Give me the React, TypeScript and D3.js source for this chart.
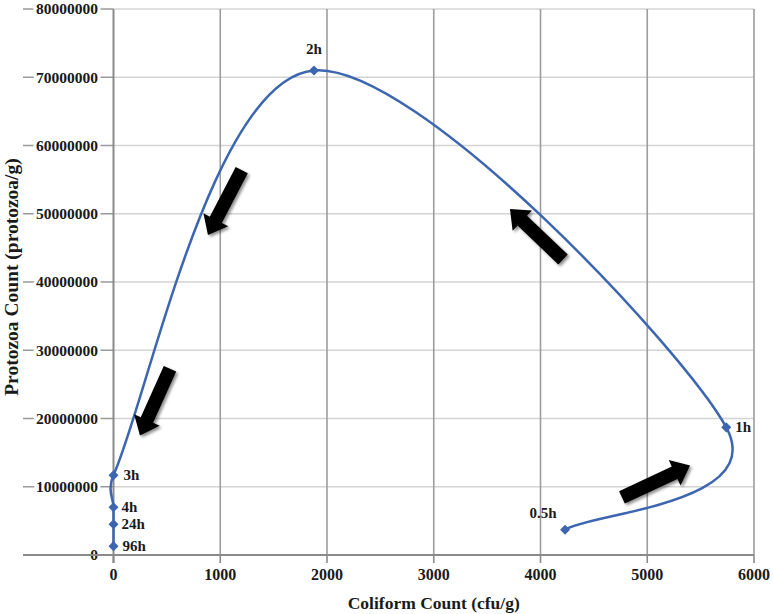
import React from "react";
import * as d3 from "d3";

// time points along the path (coliform cfu/g vs protozoa/g)
const labels = ["0.5h", "1h", "2h", "3h", "4h", "24h", "96h"];
const coliform = [4230, 5740, 1878, 0, 0, 0, 0];
const protozoa = [3700000, 18700000, 71000000, 11700000, 7000000, 4500000, 1300000];

const xTicks = [0, 1000, 2000, 3000, 4000, 5000, 6000];
const yTicks = [0, 10000000, 20000000, 30000000, 40000000, 50000000, 60000000, 70000000, 80000000];

// direction arrows drawn on the plot, tail -> tip, in data units
const arrowTails = [
  [1201, 56400000],
  [529, 27300000],
  [4211, 43300000],
  [4763, 8450000],
];
const arrowTips = [
  [885, 46900000],
  [248, 17500000],
  [3714, 50700000],
  [5401, 13100000],
];

const width = 773;
const height = 614;
const margin = { top: 9, right: 19, bottom: 59, left: 113.5 };

const font = '"Liberation Serif", "Times New Roman", serif';
const lineColor = "#3d66b0";

// label placement relative to the marker
const labelPos: Record<string, { dx: number; dy: number; anchor: string }> = {
  "0.5h": { dx: -22, dy: -12, anchor: "middle" },
  "1h": { dx: 9, dy: 5, anchor: "start" },
  "2h": { dx: 0, dy: -16, anchor: "middle" },
  "3h": { dx: 10, dy: 5, anchor: "start" },
  "4h": { dx: 8, dy: 5, anchor: "start" },
  "24h": { dx: 8, dy: 5, anchor: "start" },
  "96h": { dx: 9, dy: 5, anchor: "start" },
};

// spreadsheet-style smoothed line: cardinal bezier (1/6) with arms clipped
// to half of the adjacent segment so short hops don't loop
function smoothPath(pts: [number, number][]) {
  const p = d3.path();
  const n = pts.length;
  const dist = (a: number[], b: number[]) => Math.hypot(a[0] - b[0], a[1] - b[1]);
  const arm = (i: number, toward: number) => {
    const prev = pts[Math.max(i - 1, 0)];
    const next = pts[Math.min(i + 1, n - 1)];
    const dx = next[0] - prev[0];
    const dy = next[1] - prev[1];
    const d02 = Math.hypot(dx, dy);
    if (d02 === 0) return [0, 0];
    const seg = dist(pts[i], pts[toward]);
    const len = Math.min(d02 / 6, seg / 2);
    return [(dx / d02) * len, (dy / d02) * len];
  };
  p.moveTo(pts[0][0], pts[0][1]);
  for (let i = 0; i < n - 1; i++) {
    const a = arm(i, i + 1);
    const b = arm(i + 1, i);
    p.bezierCurveTo(
      pts[i][0] + a[0],
      pts[i][1] + a[1],
      pts[i + 1][0] - b[0],
      pts[i + 1][1] - b[1],
      pts[i + 1][0],
      pts[i + 1][1]
    );
  }
  return p.toString();
}

const App = () => {
  const x = d3
    .scaleLinear()
    .domain([0, 6000])
    .range([margin.left, width - margin.right]);
  const y = d3
    .scaleLinear()
    .domain([0, 80000000])
    .range([height - margin.bottom, margin.top]);

  const points = labels.map((l, i) => ({ label: l, cx: coliform[i], pz: protozoa[i] }));
  const pix = points.map((d) => [x(d.cx), y(d.pz)] as [number, number]);

  const arrowPath = (t: number[], h: number[]) => {
    const tx = x(t[0]), ty = y(t[1]);
    const hx = x(h[0]), hy = y(h[1]);
    const len = Math.hypot(hx - tx, hy - ty);
    const ux = (hx - tx) / len, uy = (hy - ty) / len;
    const nx = -uy, ny = ux;
    const sw = 6.8, hw = 14, hl = 17;
    const bx = hx - ux * hl, by = hy - uy * hl;
    const pts = [
      [tx + nx * sw, ty + ny * sw],
      [bx + nx * sw, by + ny * sw],
      [bx + nx * hw, by + ny * hw],
      [hx, hy],
      [bx - nx * hw, by - ny * hw],
      [bx - nx * sw, by - ny * sw],
      [tx - nx * sw, ty - ny * sw],
    ];
    return "M" + pts.map((q) => q.join(",")).join("L") + "Z";
  };

  const diamond = d3.symbol().type(d3.symbolDiamond2).size(64)();

  const x0 = x(0);
  const y0 = y(0);

  return (
    <svg
      width={width}
      height={height}
      style={{ position: "absolute", left: 0, top: 0, background: "#fff" }}
      fontFamily={font}
      fontWeight="bold"
    >
      <defs>
        <filter id="shadow" x="-30%" y="-30%" width="160%" height="160%">
          <feGaussianBlur in="SourceAlpha" stdDeviation="1.5" />
          <feOffset dx="1.5" dy="2" result="b" />
          <feComponentTransfer>
            <feFuncA type="linear" slope="0.45" />
          </feComponentTransfer>
          <feMerge>
            <feMergeNode />
            <feMergeNode in="SourceGraphic" />
          </feMerge>
        </filter>
      </defs>

      {/* horizontal gridlines */}
      {yTicks.map((t) => (
        <line
          key={"hg" + t}
          x1={x0}
          x2={x(6000)}
          y1={y(t)}
          y2={y(t)}
          stroke="#d4d4d4"
          strokeWidth={1.6}
        />
      ))}
      {/* vertical gridlines */}
      {xTicks.slice(1).map((t) => (
        <line
          key={"vg" + t}
          x1={x(t)}
          x2={x(t)}
          y1={y(80000000)}
          y2={y0}
          stroke="#9d9d9d"
          strokeWidth={1.6}
        />
      ))}

      {/* y ticks + labels */}
      {yTicks.map((t) => (
        <g key={"yt" + t}>
          <line x1={23} x2={x0} y1={y(t)} y2={y(t)} stroke="#999" strokeWidth={1.5} />
          <text
            x={98}
            y={y(t)}
            dy="0.35em"
            textAnchor="end"
            fontSize={15.5}
            fill="#1a1a1a"
            stroke="#fff"
            strokeWidth={6}
            paintOrder="stroke"
          >
            {t}
          </text>
        </g>
      ))}

      {/* axes */}
      <line x1={x0} x2={x0} y1={y(80000000)} y2={y0 + 8} stroke="#8a8a8a" strokeWidth={2} />
      <line x1={23} x2={x(6000)} y1={y0} y2={y0} stroke="#8a8a8a" strokeWidth={2} />
      {xTicks.map((t) => (
        <g key={"xt" + t}>
          <line x1={x(t)} x2={x(t)} y1={y0} y2={y0 + 8} stroke="#8a8a8a" strokeWidth={1.6} />
          <text x={x(t)} y={y0 + 25} textAnchor="middle" fontSize={16} fill="#1a1a1a">
            {t}
          </text>
        </g>
      ))}

      {/* axis titles */}
      <text x={(x0 + x(6000)) / 2} y={609} textAnchor="middle" fontSize={17.5} fill="#1a1a1a">
        Coliform Count (cfu/g)
      </text>
      <text
        transform={`translate(18,${277}) rotate(-90)`}
        textAnchor="middle"
        fontSize={19.5}
        fill="#1a1a1a"
      >
        Protozoa Count (protozoa/g)
      </text>

      {/* smoothed trajectory */}
      <path d={smoothPath(pix)} fill="none" stroke={lineColor} strokeWidth={2.5} />
      {points.map((p) => (
        <path
          key={"m" + p.label}
          d={diamond || ""}
          transform={`translate(${x(p.cx)},${y(p.pz)})`}
          fill={lineColor}
        />
      ))}
      {points.map((p) => {
        const lp = labelPos[p.label];
        return (
          <text
            key={"l" + p.label}
            x={x(p.cx) + lp.dx}
            y={y(p.pz) + lp.dy}
            textAnchor={lp.anchor}
            fontSize={15}
            fill="#1a1a1a"
          >
            {p.label}
          </text>
        );
      })}

      {/* direction arrows */}
      {arrowTails.map((t, i) => (
        <path key={"a" + i} d={arrowPath(t, arrowTips[i])} fill="#000" filter="url(#shadow)" />
      ))}
    </svg>
  );
};

export default App;
